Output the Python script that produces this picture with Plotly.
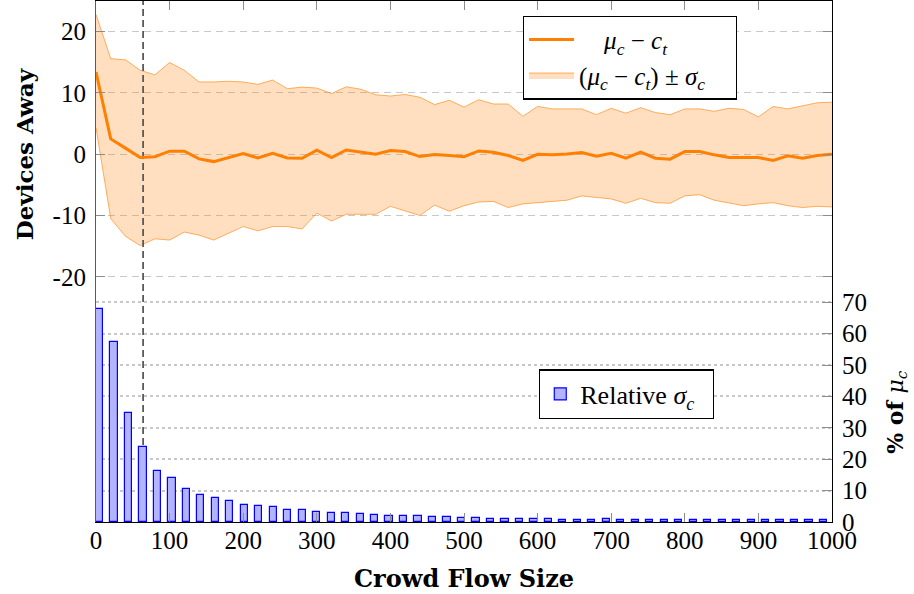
import plotly.graph_objects as go

# ---------------- data ----------------
flow_size = list(range(0, 1001, 20))  # crowd flow sizes

mean_diff = [13.4, 2.5, 1.0, -0.54, -0.4, 0.5, 0.5, -0.76, -1.2, -0.54, 0.1, -0.6, 0.16,
             -0.6, -0.65, 0.65, -0.54, 0.7, 0.38, 0.0, 0.6, 0.43, -0.38, -0.05, -0.2, -0.4,
             0.54, 0.33, -0.2, -1.0, 0.0, -0.1, 0.05, 0.27, -0.33, 0.16, -0.65, 0.33, -0.65,
             -0.8, 0.43, 0.43, -0.1, -0.54, -0.54, -0.54, -1.0, -0.27, -0.65, -0.2, 0.0]

upper_band = [22.8, 15.6, 15.4, 13.7, 12.95, 14.96, 13.7, 11.8, 11.8, 11.9, 11.8, 11.4, 12.1,
              10.7, 10.95, 10.8, 9.9, 11.0, 10.6, 9.7, 9.5, 9.75, 9.3, 8.1, 8.8, 7.7,
              8.9, 8.2, 8.2, 6.2, 7.8, 7.4, 7.4, 7.4, 6.45, 7.5, 6.7, 7.6, 6.8, 6.45, 7.4,
              7.4, 7.0, 7.5, 7.3, 6.1, 7.8, 7.4, 7.9, 8.4, 8.5]

lower_band = [4.3, -10.5, -13.4, -14.9, -13.8, -14.0, -12.7, -13.2, -14.0, -12.9, -11.8, -12.5,
              -11.8, -11.8, -12.2, -9.6, -10.9, -9.8, -9.8, -9.8, -8.5, -9.2, -10.0, -8.3, -9.3,
              -8.4, -7.8, -7.7, -8.7, -8.1, -7.9, -7.8, -7.5, -6.8, -7.0, -7.3, -8.0, -7.2,
              -7.9, -8.0, -6.8, -6.6, -7.5, -7.9, -8.4, -8.1, -7.9, -8.4, -8.7, -8.5, -8.6]

rel_sigma = [68.0, 57.4, 34.8, 23.8, 16.4, 14.0, 10.6, 8.6, 7.8, 6.6, 5.4, 5.1, 4.7, 3.9, 3.7,
             3.1, 3.0, 2.8, 2.4, 2.1, 1.9, 1.8, 1.8, 1.5, 1.5, 1.2,
             1.17, 1.06, 1.06, 0.85, 1.06, 0.85, 0.74, 0.74, 0.64, 0.85, 0.74, 0.64, 0.64,
             0.64, 0.74, 0.64, 0.64, 0.64, 0.64, 0.74, 0.53, 0.64, 0.64, 0.64, 0.64]

threshold_x = 64
x_ticks = list(range(0, 1001, 100))
left_ticks = [-20, -10, 0, 10, 20]
left_tick_text = ["-20", "-10", "0", "10", "20"]
right_ticks = list(range(0, 71, 10))

# ---------------- style ----------------
ORANGE = "rgb(255,127,0)"
SERIF = "'Liberation Serif', 'Times New Roman', Times, serif"
TICK_FONT = dict(family=SERIF, size=25, color="black")
TITLE = "'DejaVu Serif', serif"
LEG_FONT = dict(family=SERIF, size=25, color="black")

mu_ct = "<i>μ</i><sub><i>c</i></sub> − <i>c</i><sub><i>t</i></sub>"
EM = "\u2003"

fig = go.Figure()

# band (lower, then upper filled to lower)
fig.add_trace(go.Scatter(x=flow_size, y=lower_band, mode="lines",
                         line=dict(color="rgba(255,127,0,0.6)", width=1),
                         showlegend=False, hoverinfo="skip", xaxis="x", yaxis="y"))
fig.add_trace(go.Scatter(x=flow_size, y=upper_band, mode="lines", fill="tonexty",
                         fillcolor="rgba(255,127,0,0.25)",
                         line=dict(color="rgba(255,127,0,0.6)", width=1),
                         name="(" + mu_ct + ") ± <i>σ</i><sub><i>c</i></sub>" + EM,
                         legendrank=2, xaxis="x", yaxis="y"))
# threshold line
fig.add_trace(go.Scatter(x=[threshold_x, threshold_x], y=[-60, 25], mode="lines",
                         line=dict(color="rgb(90,90,90)", width=1.8, dash="7px,4px"),
                         showlegend=False, hoverinfo="skip", xaxis="x", yaxis="y"))
# mean line
fig.add_trace(go.Scatter(x=flow_size, y=mean_diff, mode="lines",
                         line=dict(color=ORANGE, width=3),
                         name=EM + mu_ct, legendrank=1, xaxis="x", yaxis="y"))

# bars on overlay axes
fig.add_trace(go.Bar(x=flow_size, y=rel_sigma, width=10,
                     marker=dict(color="rgb(179,179,255)", line=dict(color="blue", width=1.2)),
                     name="Relative <i>σ</i><sub><i>c</i></sub>\u2002", legend="legend2",
                     xaxis="x2", yaxis="y2"))

fig.update_layout(
    width=914, height=594,
    margin=dict(l=96, r=82, t=1, b=72),
    paper_bgcolor="white", plot_bgcolor="white",
    font=dict(family=SERIF, color="black"),
    xaxis=dict(range=[0, 1000], tickvals=x_ticks, ticks="inside", ticklen=9,
               tickcolor="rgb(140,140,140)", tickwidth=1.3, mirror="allticks",
               showline=True, linecolor="black", linewidth=1.2, showgrid=False,
               zeroline=False, tickfont=TICK_FONT, ticklabelstandoff=-4),
    yaxis=dict(range=[-60, 25], tickvals=left_ticks, ticktext=left_tick_text,
               ticks="inside", ticklen=9, tickcolor="rgb(140,140,140)", tickwidth=1.3,
               mirror="allticks", showline=True, linecolor="rgb(90,90,90)", linewidth=1.2,
               showgrid=True, gridcolor="rgb(200,200,200)", gridwidth=1.2,
               griddash="7px,5px", zeroline=False, tickfont=TICK_FONT,
               ticklabelstandoff=4),
    xaxis2=dict(range=[-4.8, 1011.7], overlaying="x", visible=False),
    yaxis2=dict(range=[0, 166], overlaying="y", side="right", anchor="x2",
                tickvals=right_ticks, ticks="inside", ticklen=10,
                tickcolor="rgb(140,140,140)", tickwidth=1.3,
                showline=True, linecolor="black", linewidth=1.2,
                showgrid=True, gridcolor="rgb(200,200,200)", gridwidth=1.5,
                griddash="dot", zeroline=False, tickfont=TICK_FONT,
                ticklabelstandoff=4),
    legend=dict(x=0.58, y=0.972, xanchor="left", yanchor="top",
                bgcolor="white", bordercolor="black", borderwidth=1.2,
                font=LEG_FONT, traceorder="normal", itemwidth=45),
    legend2=dict(x=0.602, y=0.293, xanchor="left", yanchor="top",
                 bgcolor="white", bordercolor="black", borderwidth=1.2,
                 font=dict(family=SERIF, size=26, color="black")),
    bargap=0,
    annotations=[
        dict(text="<b>Devices Away</b>", x=-0.0978, y=0.706, xref="paper", yref="paper",
             textangle=-90, showarrow=False, font=dict(family=TITLE, size=23, color="black"),
             xanchor="center", yanchor="middle"),
        dict(text="<b>% of </b><i>μ</i><sub><i>c</i></sub>", x=1.088, y=0.211,
             xref="paper", yref="paper", textangle=-90, showarrow=False,
             font=dict(family=TITLE, size=22, color="black"),
             xanchor="center", yanchor="middle"),
        dict(text="<b>Crowd Flow Size</b>", x=0.5, y=-0.1075, xref="paper",
             yref="paper", showarrow=False, font=dict(family=TITLE, size=24, color="black"),
             xanchor="center", yanchor="middle"),
    ],
)

fig.write_html("out.html")
